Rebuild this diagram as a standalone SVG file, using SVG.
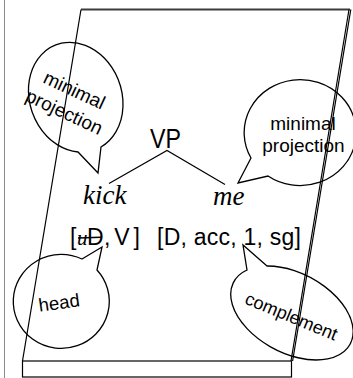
<svg xmlns="http://www.w3.org/2000/svg" width="353" height="378" viewBox="0 0 353 378">
<style>
.ln{fill:none;stroke:#000;stroke-width:1.2}
.bub{fill:none;stroke:#000;stroke-width:1.3;stroke-linejoin:miter}
.sans{font-family:"Liberation Sans",Arial,sans-serif;fill:#000}
.ser{font-family:"Liberation Serif","Times New Roman",serif;font-style:italic;fill:#000}
.bt{font-size:19px;text-anchor:middle}
</style>
<rect width="353" height="378" fill="#fff"/>
<line x1="4.5" y1="0" x2="4.5" y2="378" stroke="#8a8a8a" stroke-width="1"/>
<g id="page">
  <line x1="81" y1="9.5" x2="350" y2="9.5" stroke="#3c3c3c" stroke-width="2"/>
  <line x1="81" y1="9.5" x2="22.5" y2="361" class="ln"/>
  <line x1="349" y1="9.5" x2="291" y2="361" class="ln"/>
  <line x1="350.8" y1="9.5" x2="292.6" y2="361" class="ln"/>
  <rect x="22.5" y="361" width="269" height="16" class="ln"/>
</g>
<g id="connectors">
  <polyline points="109,183.5 167,150.5 225,184.5" class="ln"/>
</g>
<g id="vp">
  <text x="150" y="148" class="sans" font-size="27" textLength="31" lengthAdjust="spacingAndGlyphs">VP</text>
</g>
<g id="kick">
  <text x="83" y="204" class="ser" font-size="27">kick</text>
</g>
<g id="me">
  <text x="213" y="204.5" class="ser" font-size="27">me</text>
</g>
<g id="features-kick">
  <text x="70" y="245" class="sans" font-size="23">[</text>
  <text x="77" y="245" class="ser" font-size="21">u</text>
  <text x="87" y="245" class="sans" font-size="23">D</text>
  <text x="104" y="245" class="sans" font-size="23" textLength="36" lengthAdjust="spacing">,V]</text>
  <line x1="78" y1="238" x2="101" y2="237.3" stroke="#000" stroke-width="1.5"/>
</g>
<g id="features-me">
  <text x="157" y="245" class="sans" font-size="23" textLength="144" lengthAdjust="spacing">[D, acc, 1, sg]</text>
</g>
<g id="bubble-minimal-left">
  <path class="bub" d="M101,147 L98,173 L78,152 A46 56 -20 1 1 101,147 Z"/>
  <g transform="translate(67,106) rotate(25)">
    <text x="0" y="-11" class="sans bt">minimal</text>
    <text x="0" y="13" class="sans bt">projection</text>
  </g>
</g>
<g id="bubble-minimal-right">
  <path class="bub" d="M251,158 L238,183 L268,176 A56 53 0 1 0 251,158 Z"/>
  <text x="303" y="130" class="sans bt">minimal</text>
  <text x="303.5" y="152" class="sans bt">projection</text>
</g>
<g id="bubble-head">
  <path class="bub" d="M82,259 L102,247 L97,270 A48 47 0 1 1 82,259 Z"/>
  <text transform="translate(60,309) rotate(-8)" x="0" y="0" class="sans" font-size="18.5" text-anchor="middle">head</text>
</g>
<g id="bubble-complement">
  <path class="bub" d="M267,266 L243,245 L247,270 A66 40 28 1 0 267,266 Z"/>
  <text transform="translate(289,322) rotate(22.5)" x="0" y="0" class="sans" font-size="18" text-anchor="middle">complement</text>
</g>
</svg>
